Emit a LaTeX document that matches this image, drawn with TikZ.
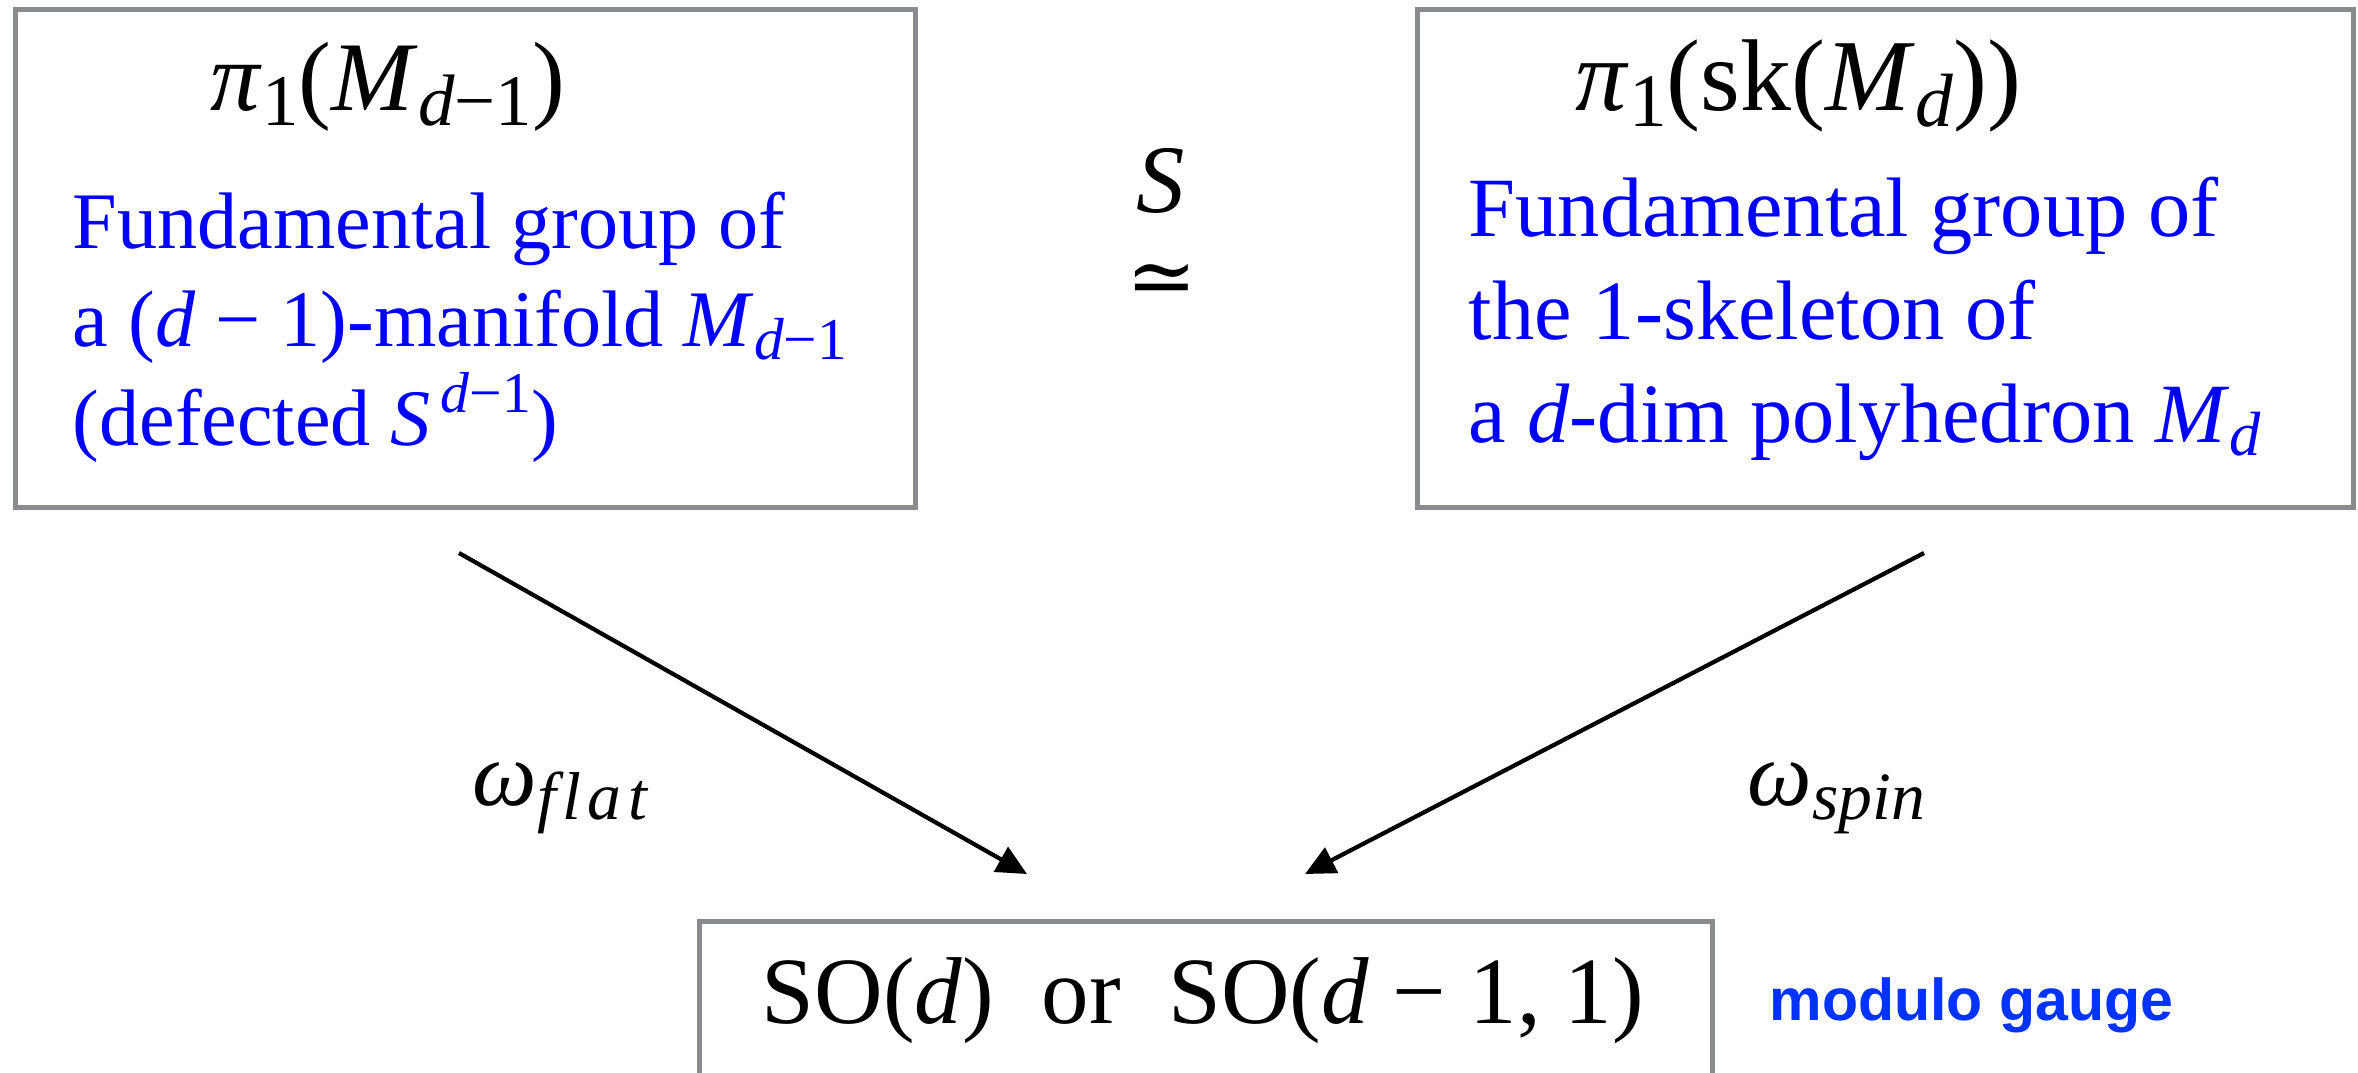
\documentclass[tikz,border=0pt]{standalone}
\usepackage{fontspec}
\setmainfont{Liberation Serif}
\newfontfamily\gaugefont{Liberation Sans}
\newfontfamily\symbolfont{DejaVu Serif}
\usetikzlibrary{arrows.meta}
\definecolor{boxgray}{RGB}{137,139,142}
\definecolor{textblue}{RGB}{0,0,255}
\definecolor{noteblue}{RGB}{0,51,255}
\newcommand{\vi}[1]{\textit{#1}}
\newcommand{\lowr}[1]{\raisebox{-0.16em}{\scalebox{0.74}{#1}}}
\newcommand{\upr}[1]{\raisebox{0.4em}{\scalebox{0.72}{#1}}}

\begin{document}
\begin{tikzpicture}[x=0.01cm, y=-0.01cm,
    frame/.style={draw=boxgray, line width=1.4pt, inner sep=0pt},
    title/.style={anchor=base west, inner sep=0pt},
    blurb/.style={anchor=base west, inner sep=0pt, align=left, text=textblue},
    maplabel/.style={anchor=base west, inner sep=0pt, font=\fontsize{26}{31}\selectfont},
    map/.style={-{Triangle[length=0.3cm,width=0.28cm]}, line width=1.2pt}]
    \useasboundingbox (0,0) rectangle (2358,1072);
    \clip (0,0) rectangle (2358,1072);

    % the two groups on top
    \node[frame, minimum width=8.99cm, minimum height=4.97cm] (flatbox) at (465.5,258.5) {};
    \node[title, font=\fontsize{28}{33}\selectfont] (flattitle) at (210,110) {\vi{π}\lowr{1}(\vi{M}\lowr{\vi{d}−1})};
    \node[blurb, font=\fontsize{22.8}{28}\selectfont] (flattext) at (72,445)
        {Fundamental group of\\a (\vi{d} − 1)-manifold \vi{M}\lowr{\vi{d}−1}\\(defected \vi{S}\upr{\,\vi{d}−1})};

    \node[frame, minimum width=9.35cm, minimum height=4.97cm] (spinbox) at (1885.5,258.5) {};
    \node[title, font=\fontsize{29}{34}\selectfont] (spintitle) at (1575,110) {\vi{π}\lowr{1}(sk(\vi{M}\lowr{\vi{d}}))};
    \node[blurb, font=\fontsize{24}{29.2}\selectfont] (spintext) at (1468,442)
        {Fundamental group of\\the 1-skeleton of\\a \vi{d}-dim polyhedron \vi{M}\lowr{\vi{d}}};

    \node[anchor=base, inner sep=0pt, font=\fontsize{27.5}{33}\selectfont] (iso) at (1161,212) {\vi{S}};
    \node[inner sep=0pt, font=\symbolfont\fontsize{24}{30}\selectfont] (isosign) at (1162,285) {≃};

    % the target group
    \node[frame, minimum width=10.12cm, minimum height=2.5cm, anchor=north west] (groupbox) at (697,919) {};
    \node[anchor=base, inner sep=0pt, font=\fontsize{27}{33}\selectfont] (grouptext) at (1203,1023)
        {SO(\vi{d})\ \ or\ \ SO(\vi{d} − 1, 1)};
    \node[anchor=base west, inner sep=0pt, text=noteblue, font=\gaugefont\bfseries\fontsize{16.8}{20}\selectfont] (gauge) at (1769,1020) {modulo gauge};

    % the two maps
    \coordinate (flatstart) at (459,553);
    \coordinate (flatend) at (1027,874);
    \coordinate (spinstart) at (1924,553);
    \coordinate (spinend) at (1305,874);
    \draw[map] (flatstart) -- (flatend);
    \draw[map] (spinstart) -- (spinend);
    \node[maplabel] (flatlabel) at (472,805) {\vi{ω}\lowr{\vi{f\kern2.5pt l\kern2.5pt a\kern2.5pt t}}};
    \node[maplabel] (spinlabel) at (1747,805) {\vi{ω}\lowr{\vi{spin}}};
\end{tikzpicture}
\end{document}
